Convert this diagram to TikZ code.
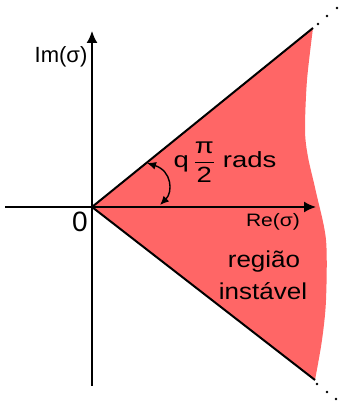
\documentclass[tikz,border=0pt]{standalone}
\usepackage{fontspec}
\setmainfont{Liberation Sans}
\usepackage{amsmath}
\usetikzlibrary{arrows.meta}
\newcommand\widetxt[2]{\scalebox{#1}[1]{#2}}

\begin{document}
\begin{tikzpicture}[x=1pt, y=1pt,
    axis/.style = {line width=1.6pt, -{Latex[length=12pt, width=11pt]}},
    edge/.style = {line width=2pt},
    lbl/.style = {inner sep=0pt, anchor=base, font=\fontsize{22}{26}\selectfont}]
    \useasboundingbox (0,0) rectangle (339,402);

    \coordinate (O) at (92,195);
    \coordinate (T) at (313,374);
    \coordinate (B) at (315,22);
    \fill[red!60] (O) -- plot[smooth] coordinates {(313,374) (307,322) (305,272) (308,245) (316,210) (326,162) (326,102) (322,62) (315,22)} -- cycle;

    \coordinate (xw) at (5,195);
    \coordinate (xe) at (316,195);
    \coordinate (ys) at (92,16);
    \coordinate (yn) at (92,371);
    \draw[axis] (xw) -- (xe);
    \draw[axis] (ys) -- (yn);
    \draw[edge] (O) -- (T);
    \draw[edge] (O) -- (B);
    \foreach \p in {(318,378),(327,386),(337,394),(317,18),(327,10),(336,3)}
        \fill \p circle (1.4);

    \node[lbl] (im) at (61,339) {Im(σ)};
    \node[lbl, font=\fontsize{28}{30}\selectfont] (zero) at (80,170) {0};
    \node[lbl, font=\fontsize{18}{20}\selectfont] (re) at (273,175) {\widetxt{1.17}{Re(σ)}};
    \node[lbl] (ang) at (225,234) {\widetxt{1.25}{q\,$\dfrac{\text{π}}{\text{2}}$ rads}};
    \node[lbl, font=\fontsize{23}{26}\selectfont] (reg1) at (264,134) {\widetxt{1.13}{região}};
    \node[lbl, font=\fontsize{23}{26}\selectfont] (reg2) at (263,102) {\widetxt{1.13}{instável}};

    \coordinate (qa) at (147,239);
    \coordinate (qb) at (160,197);
    \draw[line width=1.4pt, {Latex[length=9pt,width=8pt]}-{Latex[length=9pt,width=8pt]}] (qa) .. controls (172,231) and (173,210) .. (qb);
\end{tikzpicture}
\end{document}
